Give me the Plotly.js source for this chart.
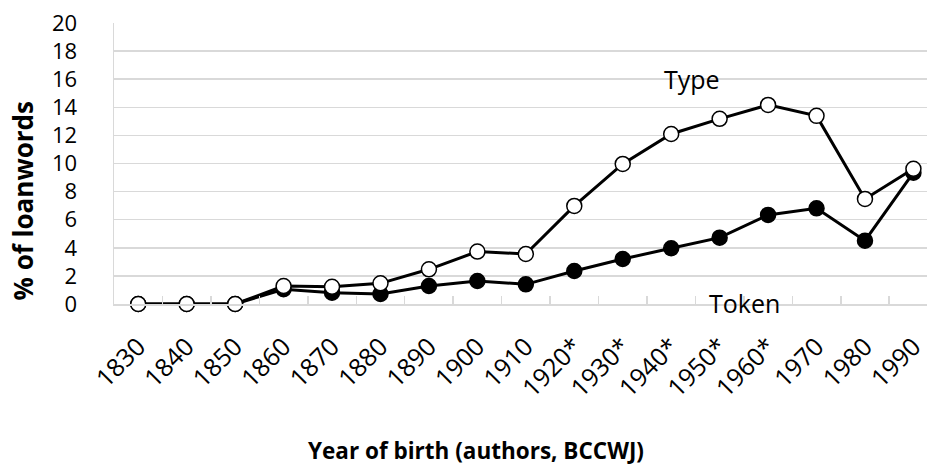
<!DOCTYPE html>
<html>
<head>
<meta charset="utf-8">
<script src="https://cdn.plot.ly/plotly-3.0.1.min.js"></script>
<style>html,body{margin:0;padding:0;background:#fff;}#chart{width:927px;height:471px;}</style>
</head>
<body>
<div id="chart"></div>
<script>
const categories = ["1830","1840","1850","1860","1870","1880","1890","1900","1910","1920*","1930*","1940*","1950*","1960*","1970","1980","1990"];
const typeValues = [0, 0, 0, 1.28, 1.23, 1.47, 2.47, 3.73, 3.56, 6.98, 9.97, 12.1, 13.18, 14.17, 13.39, 7.48, 9.62];
const tokenValues = [0, 0, 0, 1.05, 0.8, 0.71, 1.28, 1.64, 1.40, 2.35, 3.2, 3.97, 4.72, 6.34, 6.81, 4.51, 9.35];
const seriesNames = ["Type", "Token"];
const yTicks = [0,2,4,6,8,10,12,14,16,18,20];
const xTitle = "Year of birth (authors, BCCWJ)";
const yTitle = "% of loanwords";

const FONT = "Open Sans, Liberation Sans, sans-serif";

const traces = [
  {
    x: categories, y: tokenValues, name: seriesNames[1], type: "scatter", mode: "lines+markers",
    line: {color: "#000", width: 3},
    marker: {size: 15, color: "#000", line: {color: "#000", width: 1.5}},
    cliponaxis: false, hoverinfo: "skip"
  },
  {
    x: categories, y: typeValues, name: seriesNames[0], type: "scatter", mode: "lines+markers",
    line: {color: "#000", width: 3},
    marker: {size: 15, color: "#fff", line: {color: "#000", width: 1.5}},
    cliponaxis: false, hoverinfo: "skip"
  }
];

const layout = {
  width: 927, height: 471,
  margin: {l: 114, r: 0, t: 23, b: 167},
  paper_bgcolor: "#fff", plot_bgcolor: "#fff",
  showlegend: false,
  font: {family: FONT, color: "#000", size: 20},
  xaxis: {
    type: "category",
    range: [-0.5, 16.28],
    tickangle: -45,
    tickfont: {family: FONT, size: 25, color: "#000"},
    ticklabelstandoff: 16,
    showgrid: false,
    showline: true, linecolor: "#d9d9d9", linewidth: 2,
    ticks: "inside", tickson: "boundaries", ticklen: 8, tickcolor: "#d9d9d9", tickwidth: 1.5,
    zeroline: false,
    automargin: false, fixedrange: true
  },
  yaxis: {
    range: [0, 20],
    tickvals: yTicks,
    ticktext: yTicks.map(String),
    tickfont: {family: FONT, size: 22, color: "#000"},
    showgrid: true, gridcolor: "#d9d9d9", gridwidth: 1.5,
    showline: true, linecolor: "#d9d9d9", linewidth: 1.5,
    zeroline: false,
    ticks: "", ticklabelstandoff: 31,
    automargin: false, fixedrange: true
  },
  annotations: [
    {x: 11.42, y: 16.0, xref: "x", yref: "y", text: seriesNames[0], showarrow: false, font: {family: FONT, size: 25, color: "#000"}},
    {x: 12.52, y: 0.05, xref: "x", yref: "y", text: seriesNames[1], showarrow: false, font: {family: FONT, size: 25, color: "#000"}},
    {x: 0.4453, y: -0.523, xref: "paper", yref: "paper", xanchor: "center", yanchor: "middle",
     text: "<b>" + xTitle + "</b>", showarrow: false, font: {family: FONT, size: 22.5, color: "#000"}},
    {x: -0.1119, y: 0.3648, xref: "paper", yref: "paper", xanchor: "center", yanchor: "middle", textangle: -90,
     text: "<b>" + yTitle + "</b>", showarrow: false, font: {family: FONT, size: 26, color: "#000"}}
  ]
};

Plotly.newPlot("chart", traces, layout, {displayModeBar: false, staticPlot: true});
</script>
</body>
</html>
